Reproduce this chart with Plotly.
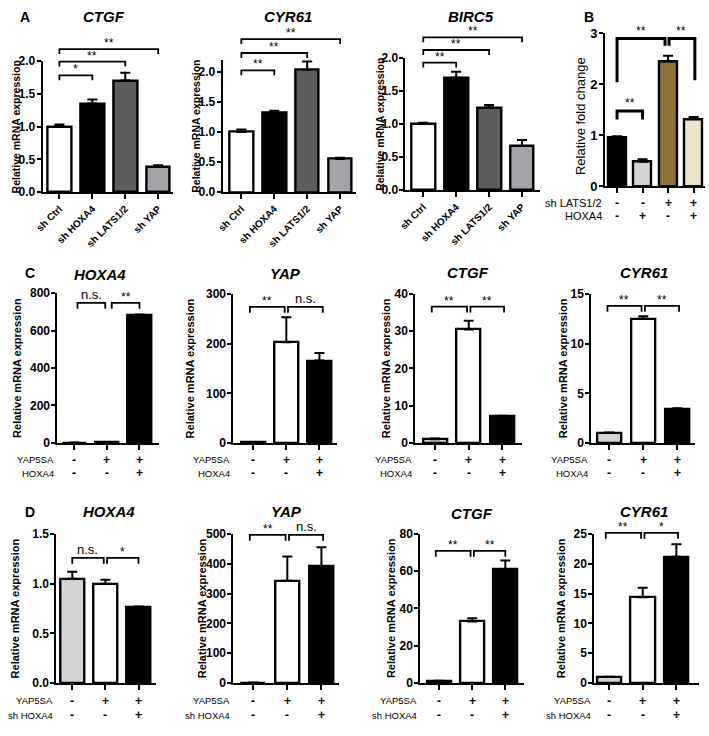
import plotly.graph_objects as go

W, H = 709, 736
FONT = "Liberation Sans, Arial, Helvetica, sans-serif"

# ------------------------------------------------------------------ data
A_labels = ["sh Ctrl", "sh HOXA4", "sh LATS1/2", "sh YAP"]
A_colors = ["#ffffff", "#000000", "#5e5c5e", "#a4a4a8"]

A_CTGF = [1.00, 1.35, 1.70, 0.39]
A_CTGF_err = [0.03, 0.06, 0.12, 0.02]
A_CTGF_sig = [(0, 1, 1.78, "*"), (0, 2, 1.99, "**"), (0, 3, 2.18, "**")]

A_CYR61 = [1.00, 1.32, 2.03, 0.55]
A_CYR61_err = [0.04, 0.03, 0.14, 0.02]
A_CYR61_sig = [(0, 1, 2.02, "**"), (0, 2, 2.31, "**"), (0, 3, 2.54, "**")]

A_BIRC5 = [1.00, 1.70, 1.25, 0.67]
A_BIRC5_err = [0.02, 0.09, 0.04, 0.09]
A_BIRC5_sig = [(0, 1, 1.93, "**"), (0, 2, 2.12, "**"), (0, 3, 2.31, "**")]

B_vals = [0.95, 0.48, 2.45, 1.32]
B_err = [0.03, 0.05, 0.11, 0.04]
B_colors = ["#000000", "#d4d4d6", "#8a7436", "#ebe4cb"]
B_row_names = ["sh LATS1/2", "HOXA4"]
B_rows = [["-", "-", "+", "+"], ["-", "+", "-", "+"]]

CD_colors = ["#d3d3d3", "#ffffff", "#000000"]
C_row_names = ["YAP5SA", "HOXA4"]
C_rows = [["-", "+", "+"], ["-", "-", "+"]]
D_row_names = ["YAP5SA", "sh HOXA4"]
D_rows = [["-", "+", "+"], ["-", "-", "+"]]

C_HOXA4 = [2, 3, 680]
C_HOXA4_err = [0.5, 0.5, 5]
C_HOXA4_sig = [(0.1, 0.95, 748, "n.s."), (1.15, 2.0, 748, "**")]

C_YAP = [1, 203, 166]
C_YAP_err = [0.3, 50, 15]
C_YAP_sig = [(-0.1, 0.95, 274, "**"), (1.05, 2.1, 274, "n.s.")]

C_CTGF = [1.0, 30.5, 7.1]
C_CTGF_err = [0.2, 2.3, 0.2]
C_CTGF_sig = [(-0.1, 0.95, 36.6, "**"), (1.05, 2.05, 36.6, "**")]

C_CYR61 = [1.0, 12.5, 3.4]
C_CYR61_err = [0.05, 0.25, 0.1]
C_CYR61_sig = [(-0.05, 0.95, 13.8, "**"), (1.05, 2.05, 13.8, "**")]

D_HOXA4 = [1.05, 1.00, 0.76]
D_HOXA4_err = [0.07, 0.04, 0.01]
D_HOXA4_sig = [(0.0, 0.95, 1.26, "n.s."), (1.05, 2.0, 1.26, "*")]

D_YAP = [1, 343, 393]
D_YAP_err = [0.3, 82, 63]
D_YAP_sig = [(-0.1, 0.95, 497, "**"), (1.05, 2.05, 497, "n.s.")]

D_CTGF = [1.0, 33.0, 61.0]
D_CTGF_err = [0.2, 1.7, 4.8]
D_CTGF_sig = [(-0.1, 0.95, 71, "**"), (1.05, 2.0, 71, "**")]

D_CYR61 = [1.0, 14.4, 21.2]
D_CYR61_err = [0.05, 1.6, 2.1]
D_CYR61_sig = [(-0.1, 0.95, 25.2, "**"), (1.05, 2.05, 25.2, "*")]

YT = "Relative mRNA expression"

# ------------------------------------------------------------ geometry (px)
panels = [
    dict(title="CTGF", tpos=(97, 10), vals=A_CTGF, err=A_CTGF_err, colors=A_colors, labels=A_labels,
         L=35, R=167, c0=52, s=33.3, B=189, T=55, ymax=2.0, dtick=0.5, fmt=".1f", ytx=8, sig=A_CTGF_sig, leg=5),
    dict(title="CYR61", tpos=(283, 10), vals=A_CYR61, err=A_CYR61_err, colors=A_colors, labels=A_labels,
         L=217, R=352, c0=236, s=33.3, B=189, T=53.7, ymax=2.2, dtick=0.5, fmt=".1f", ytx=190, sig=A_CYR61_sig, leg=5),
    dict(title="BIRC5", tpos=(468, 10), vals=A_BIRC5, err=A_BIRC5_err, colors=A_colors, labels=A_labels,
         L=402, R=538, c0=420, s=33.3, B=187, T=52, ymax=2.0, dtick=0.5, fmt=".1f", ytx=376, sig=A_BIRC5_sig, leg=5),
    dict(title=None, vals=B_vals, err=B_err, colors=B_colors, labels=None,
         L=604, R=705, c0=616, s=25.8, B=183, T=27, ymax=3, dtick=1, fmt="d", ytx=579, sig=[], leg=0,
         ytitle="Relative fold change", rows=B_rows, row_names=B_row_names, row_y=[200, 213], bw=0.7),
    dict(title="HOXA4", tpos=(93, 273), vals=C_HOXA4, err=C_HOXA4_err, colors=CD_colors, labels=None,
         L=50, R=153, c0=67, s=33, B=445, T=292, ymax=800, dtick=200, fmt="d", ytx=9, sig=C_HOXA4_sig, leg=6,
         rows=C_rows, row_names=C_row_names, row_y=[462, 476]),
    dict(title="YAP", tpos=(281, 272), vals=C_YAP, err=C_YAP_err, colors=CD_colors, labels=None,
         L=228, R=333, c0=248, s=33.5, B=445, T=293, ymax=300, dtick=100, fmt="d", ytx=185, sig=C_YAP_sig, leg=6,
         rows=C_rows, row_names=C_row_names, row_y=[462, 476]),
    dict(title="CTGF", tpos=(465, 271), vals=C_CTGF, err=C_CTGF_err, colors=CD_colors, labels=None,
         L=412, R=520, c0=432, s=34, B=445, T=293, ymax=40, dtick=10, fmt="d", ytx=383, sig=C_CTGF_sig, leg=6,
         rows=C_rows, row_names=C_row_names, row_y=[462, 476]),
    dict(title="CYR61", tpos=(643, 271), vals=C_CYR61, err=C_CYR61_err, colors=CD_colors, labels=None,
         L=590, R=695, c0=608, s=34.5, B=445, T=293, ymax=15, dtick=5, fmt="d", ytx=562, sig=C_CYR61_sig, leg=6,
         rows=C_rows, row_names=C_row_names, row_y=[462, 476]),
    dict(title="HOXA4", tpos=(102, 515), vals=D_HOXA4, err=D_HOXA4_err, colors=CD_colors, labels=None,
         L=49, R=150, c0=65, s=33.5, B=690, T=538, ymax=1.5, dtick=0.5, fmt=".1f", ytx=8, sig=D_HOXA4_sig, leg=6,
         rows=D_rows, row_names=D_row_names, row_y=[708, 723]),
    dict(title="YAP", tpos=(282, 515), vals=D_YAP, err=D_YAP_err, colors=CD_colors, labels=None,
         L=228, R=335, c0=248, s=34.5, B=690, T=538, ymax=500, dtick=100, fmt="d", ytx=197, sig=D_YAP_sig, leg=6,
         rows=D_rows, row_names=D_row_names, row_y=[708, 723]),
    dict(title="CTGF", tpos=(469, 517), vals=D_CTGF, err=D_CTGF_err, colors=CD_colors, labels=None,
         L=417, R=522, c0=436, s=33.5, B=690, T=538, ymax=80, dtick=20, fmt="d", ytx=388, sig=D_CTGF_sig, leg=6,
         rows=D_rows, row_names=D_row_names, row_y=[708, 723]),
    dict(title="CYR61", tpos=(643, 515), vals=D_CYR61, err=D_CYR61_err, colors=CD_colors, labels=None,
         L=593, R=699, c0=608, s=34, B=690, T=538, ymax=25, dtick=5, fmt="d", ytx=560, sig=D_CYR61_sig, leg=6,
         rows=D_rows, row_names=D_row_names, row_y=[708, 723]),
]


def fx(px):
    return px / W


def fy(py):
    return 1 - py / H


fig = go.Figure()
axes = {}
shapes = []
anns = []

for k, p in enumerate(panels, start=1):
    sfx = "" if k == 1 else str(k)
    xa, ya = "x" + sfx, "y" + sfx
    n = len(p["vals"])
    idx = list(range(n))
    bw = p.get("bw", 0.72)
    fig.add_trace(go.Bar(
        x=idx, y=p["vals"], width=bw, xaxis=xa, yaxis=ya, showlegend=False, hoverinfo="skip",
        marker=dict(color=p["colors"], line=dict(color="black", width=2.4)),
        error_y=dict(type="data", symmetric=False, array=p["err"], arrayminus=[0] * n,
                     color="black", thickness=2, width=5),
    ))
    L, R, c0, s, B, T = p["L"], p["R"], p["c0"], p["s"], p["B"], p["T"]
    labels = p["labels"]
    axes["xaxis" + sfx] = dict(
        domain=[fx(L), fx(R)], range=[(L - c0) / s, (R - c0) / s], anchor=ya,
        showline=True, linecolor="black", linewidth=2, ticks="outside", ticklen=5, tickwidth=2,
        tickcolor="black", tickvals=idx, ticktext=labels if labels else None,
        showticklabels=bool(labels), tickangle=-45,
        tickfont=dict(family=FONT, size=10, color="black", weight="bold"),
        showgrid=False, zeroline=False, fixedrange=True)
    axes["yaxis" + sfx] = dict(
        domain=[fy(B), fy(T)], range=[0, p["ymax"]], anchor=xa,
        showline=True, linecolor="black", linewidth=2, ticks="outside", ticklen=4, tickwidth=2,
        tickcolor="black", dtick=p["dtick"], tick0=0, tickformat=p["fmt"], ticklabelstandoff=-1,
        tickfont=dict(family=FONT, size=12, color="black", weight="bold"),
        showgrid=False, zeroline=False, fixedrange=True)

    # y title
    is_b = k == 4
    ytitle = p.get("ytitle", YT)
    anns.append(dict(xref="paper", yref="paper", x=fx(p["ytx"]), y=(fy(B) + fy(T)) / 2 - (0.008 if is_b else 0),
                     text=ytitle, textangle=-90, showarrow=False, xanchor="center", yanchor="middle",
                     font=dict(family=FONT, size=13 if is_b else (10.5 if k <= 3 else 11), color="black",
                               weight="normal" if is_b else "bold")))
    # gene title
    if p["title"]:
        tx, ty = p["tpos"]
        anns.append(dict(xref="paper", yref="paper", x=fx(tx), y=fy(ty), text=p["title"], showarrow=False,
                         xanchor="center", yanchor="middle",
                         font=dict(family=FONT, size=15, color="black", weight="bold", style="italic")))
    # significance brackets
    leg = p["leg"] / (B - T)
    for (x1, x2, lvl, txt) in p["sig"]:
        yd = lvl / p["ymax"]
        shapes.append(dict(type="path", xref=xa, yref=ya + " domain",
                           path=f"M {x1},{yd - leg} L {x1},{yd} L {x2},{yd} L {x2},{yd - leg}",
                           line=dict(color="black", width=1.8)))
        ns = txt == "n.s."
        anns.append(dict(xref=xa, yref=ya + " domain", x=(x1 + x2) / 2, y=yd, text=txt, showarrow=False,
                         xanchor="center", yanchor="bottom", yshift=-1 if ns else -3,
                         font=dict(family=FONT, size=13 if ns else 12, color="black")))
    # rows of +/- labels
    if p.get("rows"):
        rsize = 11 if is_b else 9.5
        for r, (name, signs) in enumerate(zip(p["row_names"], p["rows"])):
            yy = fy(p["row_y"][r])
            anns.append(dict(xref="paper", yref="paper", x=fx(L - 1), y=yy, text=name, showarrow=False,
                             xanchor="right", yanchor="middle", font=dict(family=FONT, size=rsize, color="black")))
            for i, sg in enumerate(signs):
                anns.append(dict(xref=xa, yref="paper", x=i, y=yy, text=sg, showarrow=False,
                                 xanchor="center", yanchor="middle",
                                 font=dict(family=FONT, size=12, color="black", weight="bold")))

# panel B special brackets (levels in data units of panel B axis)
B_br_levels = dict(small=1.48, small_leg=1.31, top=2.90, left_low=2.04, mid_low=2.76, right_low=2.08)
pB = panels[3]
lv = {k2: v / pB["ymax"] for k2, v in B_br_levels.items()}
for path in [
    f"M 0,{lv['small_leg']} L 0,{lv['small']} L 1,{lv['small']} L 1,{lv['small_leg']}",
    f"M 0,{lv['left_low']} L 0,{lv['top']} L 1.88,{lv['top']} L 1.88,{lv['mid_low']}",
    f"M 2.04,{lv['mid_low']} L 2.04,{lv['top']} L 3.05,{lv['top']} L 3.05,{lv['right_low']}",
]:
    shapes.append(dict(type="path", xref="x4", yref="y4 domain", path=path, line=dict(color="black", width=3)))
for xs, yv in [(0.5, lv["small"]), (0.94, lv["top"]), (2.5, lv["top"])]:
    anns.append(dict(xref="x4", yref="y4 domain", x=xs, y=yv, text="**", showarrow=False, xanchor="center",
                     yanchor="bottom", yshift=-1, font=dict(family=FONT, size=12, color="black")))
axes["yaxis4"]["tickfont"]["size"] = 13

# panel letters
for letter, (lx, ly) in {"A": (17, 10), "B": (588, 10), "C": (22, 272), "D": (22, 515)}.items():
    anns.append(dict(xref="paper", yref="paper", x=fx(lx), y=fy(ly), text=letter, showarrow=False,
                     xanchor="center", yanchor="middle",
                     font=dict(family=FONT, size=14, color="black", weight="bold")))

fig.update_layout(
    width=W, height=H, autosize=False, margin=dict(l=0, r=0, t=0, b=0),
    paper_bgcolor="white", plot_bgcolor="white", bargap=0,
    font=dict(family=FONT, color="black"),
    shapes=shapes, annotations=anns, **axes)

post = (
    "document.documentElement.style.margin='0px';document.documentElement.style.overflow='hidden';"
    "document.body.style.margin='0px';document.body.style.padding='0px';document.body.style.overflow='hidden';"
    "var d=document.getElementById('{plot_id}');d.style.position='fixed';d.style.left='0px';d.style.top='0px';"
)
fig.write_html("out.html", config={"displayModeBar": False}, post_script=post)
